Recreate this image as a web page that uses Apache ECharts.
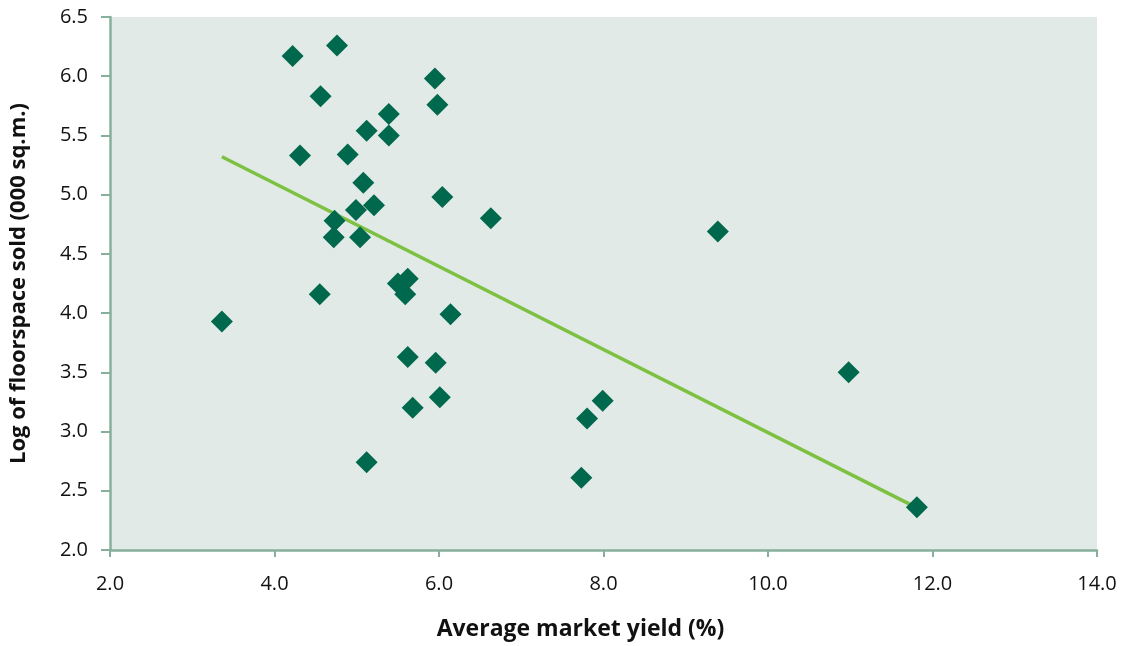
<!DOCTYPE html>
<html>
<head>
<meta charset="utf-8">
<script src="https://cdn.jsdelivr.net/npm/echarts@6/dist/echarts.min.js"></script>
<style>
  html, body { margin: 0; padding: 0; background: #ffffff; }
  #chart { width: 1125px; height: 646px; }
</style>
</head>
<body>
<div id="chart"></div>
<script>
// Average market yield (%)
const yieldValues = [
  4.22, 4.76, 5.95, 5.98, 4.56, 5.39, 5.12, 5.39, 4.31, 4.89,
  5.08, 6.04, 5.21, 4.99, 6.63, 4.73, 4.72, 5.04, 5.62, 5.50,
  5.59, 4.55, 3.36, 6.14, 5.62, 5.96, 6.01, 5.68, 5.12, 9.39,
  10.98, 7.99, 7.80, 7.73, 11.81
];
// Log of floorspace sold (000 sq.m.)
const logFloorspace = [
  6.17, 6.26, 5.98, 5.76, 5.83, 5.68, 5.54, 5.50, 5.33, 5.34,
  5.10, 4.98, 4.91, 4.87, 4.80, 4.78, 4.64, 4.64, 4.29, 4.25,
  4.16, 4.16, 3.93, 3.99, 3.63, 3.58, 3.29, 3.20, 2.74, 4.69,
  3.50, 3.26, 3.11, 2.61, 2.36
];
// Trend line end points
const trendX = [3.36, 11.8];
const trendY = [5.32, 2.36];

const xTicks = { min: 2, max: 14, interval: 2 };
const yTicks = { min: 2, max: 6.5, interval: 0.5 };

const points = yieldValues.map((x, i) => [x, logFloorspace[i]]);
const trend = trendX.map((x, i) => [x, trendY[i]]);

const axisColor = '#86b09d';
const font = "'Open Sans', 'Noto Sans', sans-serif";

const chart = echarts.init(document.getElementById('chart'), null, { renderer: 'canvas' });
chart.setOption({
  animation: false,
  backgroundColor: '#ffffff',
  grid: {
    left: 110, right: 28, top: 17, bottom: 93,
    show: true, backgroundColor: '#e1eae6', borderWidth: 0
  },
  xAxis: {
    type: 'value',
    min: xTicks.min, max: xTicks.max, interval: xTicks.interval,
    name: 'Average market yield (%)',
    nameLocation: 'middle',
    nameGap: 68,
    nameTextStyle: {
      fontFamily: font, fontSize: 23, fontWeight: 'bold', color: '#111111',
      padding: [0, 46, 0, 0]
    },
    axisLine: { show: true, lineStyle: { color: axisColor, width: 2.5 } },
    axisTick: { show: true, length: 7, lineStyle: { color: axisColor, width: 2 } },
    splitLine: { show: false },
    axisLabel: {
      margin: 24, fontFamily: font, fontSize: 20, color: '#111111',
      formatter: v => v.toFixed(1)
    }
  },
  yAxis: {
    type: 'value',
    min: yTicks.min, max: yTicks.max, interval: yTicks.interval,
    name: 'Log of floorspace sold (000 sq.m.)',
    nameLocation: 'middle',
    nameGap: 80,
    nameTextStyle: { fontFamily: font, fontSize: 22, fontWeight: 'bold', color: '#111111' },
    axisLine: { show: true, lineStyle: { color: axisColor, width: 2.5 } },
    axisTick: { show: true, length: 9, lineStyle: { color: axisColor, width: 2 } },
    splitLine: { show: false },
    axisLabel: {
      margin: 22, fontFamily: font, fontSize: 20, color: '#111111',
      formatter: v => v.toFixed(1)
    }
  },
  series: [
    {
      type: 'line',
      data: trend,
      symbol: 'none',
      lineStyle: { color: '#7dc143', width: 3.5 },
      z: 2
    },
    {
      type: 'scatter',
      data: points,
      symbol: 'diamond',
      symbolSize: 22,
      itemStyle: { color: '#00684d', opacity: 1 },
      z: 3
    }
  ]
});
</script>
</body>
</html>
